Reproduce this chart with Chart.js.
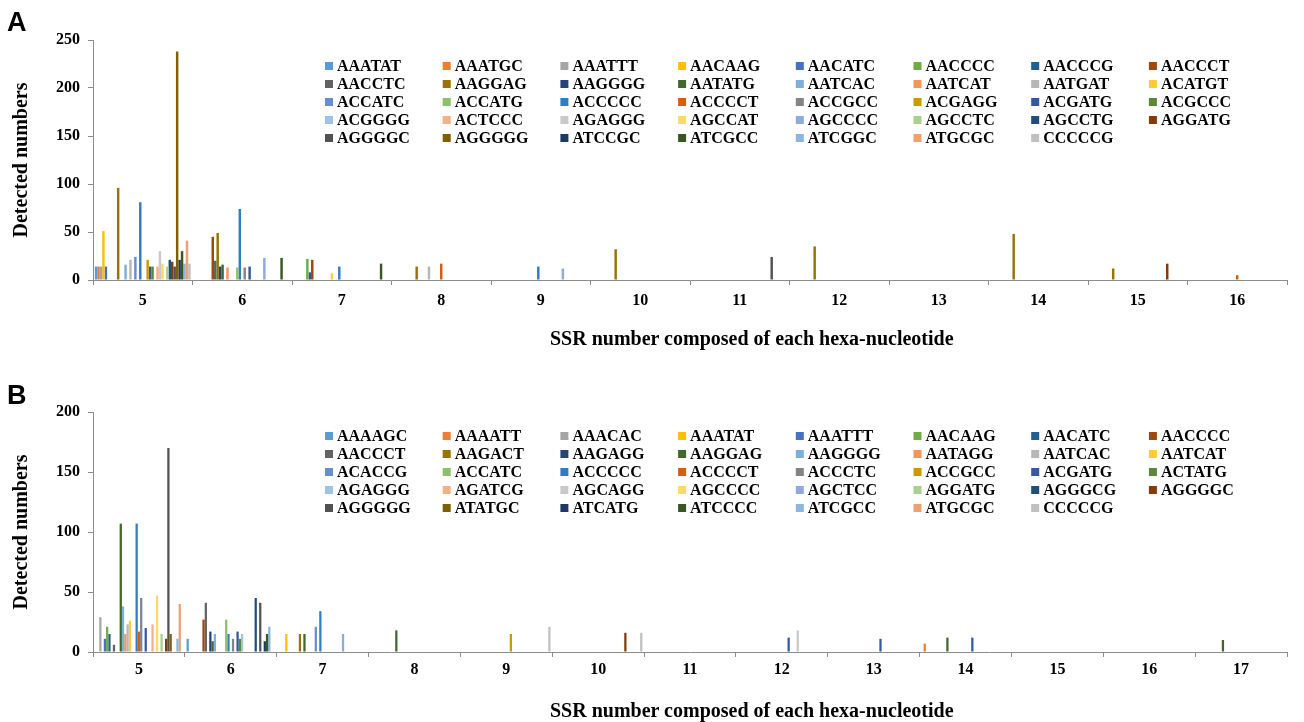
<!DOCTYPE html>
<html>
<head>
<meta charset="utf-8">
<script src="https://cdn.jsdelivr.net/npm/chart.js@4.4.1/dist/chart.umd.min.js"></script>
<style>
  html, body { margin: 0; padding: 0; background: #fff; }
  .panel { position: relative; width: 1304px; height: 361px; }
  .tag { position: absolute; left: 7px; font: bold 27px 'Liberation Sans', Arial, sans-serif; line-height: 1; }
  .xtitle { position: absolute; left: 550px; width: 400px; text-align: center; white-space: nowrap;
            font: bold 20px 'Liberation Serif', 'Times New Roman', serif; line-height: 24px; }
</style>
</head>
<body>
<div class="panel"><canvas id="chartA" width="1304" height="361"></canvas><div class="tag" style="top:9px">A</div>
  <div class="xtitle" style="top:326px">SSR number composed of each hexa-nucleotide</div></div>
<div class="panel"><canvas id="chartB" width="1304" height="361"></canvas><div class="tag" style="top:21px">B</div>
  <div class="xtitle" style="top:337px">SSR number composed of each hexa-nucleotide</div></div>
<script>
// panel A: hexa-nucleotide motifs, counts per SSR number
const categoriesA = ['5', '6', '7', '8', '9', '10', '11', '12', '13', '14', '15', '16'];
const motifsA = [
  'AAATAT', 'AAATGC', 'AAATTT', 'AACAAG', 'AACATC', 'AACCCC', 'AACCCG', 'AACCCT',
  'AACCTC', 'AAGGAG', 'AAGGGG', 'AATATG', 'AATCAC', 'AATCAT', 'AATGAT', 'ACATGT',
  'ACCATC', 'ACCATG', 'ACCCCC', 'ACCCCT', 'ACCGCC', 'ACGAGG', 'ACGATG', 'ACGCCC',
  'ACGGGG', 'ACTCCC', 'AGAGGG', 'AGCCAT', 'AGCCCC', 'AGCCTC', 'AGCCTG', 'AGGATG',
  'AGGGGC', 'AGGGGG', 'ATCCGC', 'ATCGCC', 'ATCGGC', 'ATGCGC', 'CCCCCG'
];
// one array per SSR number, values in motif order
const a5  = [14,14,14,51,14,0,0,0, 0,96,0,0,16,0,21,0, 24,0,81,0,0,21,14,14, 0,14,30,17,0,14,21,19, 14,238,21,30,17,41,17];
const a6  = [0,0,0,0,0,0,0,45, 20,49,14,16,0,13,0,0, 0,13,74,0,13,0,14,0, 0,0,0,0,23,0,0,0, 0,0,0,23,0,0,0];
const a7  = [0,0,0,0,0,22,8,21, 0,0,0,0,0,0,0,7, 0,0,14,0,0,0,0,0, 0,0,0,0,0,0,0,0, 0,0,0,17,0,0,0];
const a8  = [0,0,0,0,0,0,0,0, 0,14,0,0,0,0,14,0, 0,0,0,17,0,0,0,0, 0,0,0,0,0,0,0,0, 0,0,0,0,0,0,0];
const a9  = [0,0,0,0,0,0,0,0, 0,0,0,0,0,0,0,0, 0,0,14,0,0,0,0,0, 0,0,0,0,12,0,0,0, 0,0,0,0,0,0,0];
const a10 = [0,0,0,0,0,0,0,0, 0,32,0,0,0,0,0,0, 0,0,0,0,0,0,0,0, 0,0,0,0,0,0,0,0, 0,0,0,0,0,0,0];
const a11 = [0,0,0,0,0,0,0,0, 0,0,0,0,0,0,0,0, 0,0,0,0,0,0,0,0, 0,0,0,0,0,0,0,0, 24,0,0,0,0,0,0];
const a12 = [0,0,0,0,0,0,0,0, 0,35,0,0,0,0,0,0, 0,0,0,0,0,0,0,0, 0,0,0,0,0,0,0,0, 0,0,0,0,0,0,0];
const a13 = [0,0,0,0,0,0,0,0, 0,0,0,0,0,0,0,0, 0,0,0,0,0,0,0,0, 0,0,0,0,0,0,0,0, 0,0,0,0,0,0,0];
const a14 = [0,0,0,0,0,0,0,0, 0,48,0,0,0,0,0,0, 0,0,0,0,0,0,0,0, 0,0,0,0,0,0,0,0, 0,0,0,0,0,0,0];
const a15 = [0,0,0,0,0,0,0,0, 0,12,0,0,0,0,0,0, 0,0,0,0,0,0,0,0, 0,0,0,0,0,0,0,17, 0,0,0,0,0,0,0];
const a16 = [0,0,0,0,0,0,0,0, 0,0,0,0,0,0,0,0, 0,0,0,5,0,0,0,0, 0,0,0,0,0,0,0,0, 0,0,0,0,0,0,0];

// panel B
const categoriesB = ['5', '6', '7', '8', '9', '10', '11', '12', '13', '14', '15', '16', '17'];
const motifsB = [
  'AAAAGC', 'AAAATT', 'AAACAC', 'AAATAT', 'AAATTT', 'AACAAG', 'AACATC', 'AACCCC',
  'AACCCT', 'AAGACT', 'AAGAGG', 'AAGGAG', 'AAGGGG', 'AATAGG', 'AATCAC', 'AATCAT',
  'ACACCG', 'ACCATC', 'ACCCCC', 'ACCCCT', 'ACCCTC', 'ACCGCC', 'ACGATG', 'ACTATG',
  'AGAGGG', 'AGATCG', 'AGCAGG', 'AGCCCC', 'AGCTCC', 'AGGATG', 'AGGGCG', 'AGGGGC',
  'AGGGGG', 'ATATGC', 'ATCATG', 'ATCCCC', 'ATCGCC', 'ATGCGC', 'CCCCCG'
];
const b5  = [0,0,29,0,11,21,15,0, 6,0,0,107,38,15,23,26, 0,0,107,17,45,0,20,0, 0,23,0,47,0,15,0,11, 170,15,0,0,11,40,0];
const b6  = [11,0,0,0,0,0,0,27, 41,0,17,9,15,0,0,0, 0,27,15,0,11,0,17,11, 15,0,0,0,0,0,45,0, 41,0,9,15,21,0,0];
const b7  = [0,0,0,15,0,0,0,0, 0,15,0,15,0,0,0,0, 21,0,34,0,0,0,0,0, 0,0,0,0,15,0,0,0, 0,0,0,0,0,0,0];
const b8  = [0,0,0,0,0,0,0,0, 0,0,0,18,0,0,0,0, 0,0,0,0,0,0,0,0, 0,0,0,0,0,0,0,0, 0,0,0,0,0,0,0];
const b9  = [0,0,0,0,0,0,0,0, 0,0,0,0,0,0,0,0, 0,0,0,0,0,15,0,0, 0,0,0,0,0,0,0,0, 0,0,0,0,0,0,21];
const b10 = [0,0,0,0,0,0,0,0, 0,0,0,0,0,0,0,0, 0,0,0,0,0,0,0,0, 0,0,0,0,0,0,0,16, 0,0,0,0,0,0,16];
const b11 = [0,0,0,0,0,0,0,0, 0,0,0,0,0,0,0,0, 0,0,0,0,0,0,0,0, 0,0,0,0,0,0,0,0, 0,0,0,0,0,0,0];
const b12 = [0,0,0,0,0,0,0,0, 0,0,0,0,0,0,0,0, 0,0,0,0,0,0,12,0, 0,0,18,0,0,0,0,0, 0,0,0,0,0,0,0];
const b13 = [0,0,0,0,0,0,0,0, 0,0,0,0,0,0,0,0, 0,0,0,0,0,0,11,0, 0,0,0,0,0,0,0,0, 0,0,0,0,0,0,0];
const b14 = [0,7,0,0,0,0,0,0, 0,0,0,12,0,0,0,0, 0,0,0,0,0,0,12,0, 0,0,0,0,0,0,0,0, 0,0,0,0,0,0,0];
const b15 = [0,0,0,0,0,0,0,0, 0,0,0,0,0,0,0,0, 0,0,0,0,0,0,0,0, 0,0,0,0,0,0,0,0, 0,0,0,0,0,0,0];
const b16 = [0,0,0,0,0,0,0,0, 0,0,0,0,0,0,0,0, 0,0,0,0,0,0,0,0, 0,0,0,0,0,0,0,0, 0,0,0,0,0,0,0];
const b17 = [0,0,0,0,0,0,0,0, 0,0,0,10,0,0,0,0, 0,0,0,0,0,0,0,0, 0,0,0,0,0,0,0,0, 0,0,0,0,0,0,0];

// office-style series colours, in legend order
const palette = [
  '#5B9BD5', '#ED7D31', '#A5A5A5', '#FFC000', '#4472C4', '#70AD47', '#255E91', '#9E480E',
  '#636363', '#997300', '#264478', '#43682B', '#7CAFDD', '#F1975A', '#B7B7B7', '#FFCD33',
  '#698ED0', '#8CC168', '#327DC2', '#D26012', '#848484', '#CC9A00', '#335AA1', '#5A8A39',
  '#9DC3E6', '#F4B183', '#C9C9C9', '#FFD966', '#8FAADC', '#A9D18E', '#1F4E79', '#843C0C',
  '#525252', '#7F6000', '#203864', '#385723', '#8AB6E0', '#EFA070', '#C0C0C0'
];

const serif = "'Liberation Serif', 'Times New Roman', serif";
const axisGrey = '#8c8c8c';

// legend laid out as a fixed 8-column grid inside the plot
const gridLegend = {
  id: 'gridLegend',
  afterDraw(chart, args, o) {
    const ctx = chart.ctx;
    ctx.save();
    ctx.font = 'bold 16px ' + serif;
    ctx.textBaseline = 'middle';
    chart.data.datasets.forEach((ds, i) => {
      const x = o.x + (i % o.cols) * o.dx;
      const y = o.y + Math.floor(i / o.cols) * o.dy;
      ctx.fillStyle = ds.backgroundColor;
      ctx.fillRect(x, y - 4, 8, 8);
      ctx.fillStyle = '#000';
      ctx.fillText(ds.label, x + 12, y + 1);
    });
    ctx.restore();
  }
};

function makeChart(id, categories, motifs, columns, cfg) {
  const datasets = motifs.map((m, i) => ({
    label: m,
    data: columns.map(c => c[i]),
    backgroundColor: palette[i],
    borderWidth: 0,
    categoryPercentage: 0.963,
    barPercentage: 1
  }));
  const tickFont = { family: serif, size: 16, weight: 'bold' };
  const titleFont = { family: serif, size: 20, weight: 'bold' };

  return new Chart(document.getElementById(id), {
    type: 'bar',
    data: { labels: categories, datasets },
    options: {
      responsive: false,
      animation: false,
      layout: { padding: { top: cfg.top, right: 17, bottom: 0, left: 0 } },
      plugins: {
        legend: { display: false },
        tooltip: { enabled: false },
        gridLegend: { x: 325, y: cfg.legendY, dx: 117.7, dy: 18, cols: 8 }
      },
      scales: {
        x: {
          grid: { offset: true, drawOnChartArea: false, tickLength: 5, color: axisGrey },
          border: { color: axisGrey },
          ticks: { font: tickFont, color: '#000', padding: cfg.xPad, maxRotation: 0, autoSkip: false },
          // axis title is an html label below the canvas text (it sits right of centre)
          afterFit: s => { s.height = cfg.xHeight; }
        },
        y: {
          min: 0, max: cfg.yMax,
          grid: { drawOnChartArea: false, tickLength: 5, color: axisGrey },
          border: { color: axisGrey },
          ticks: { stepSize: 50, font: tickFont, color: '#000', padding: 8 },
          title: {
            display: true, text: 'Detected numbers',
            font: titleFont, color: '#000', padding: { top: 10, bottom: 0 }
          },
          afterFit: s => { s.width = 93; }
        }
      }
    },
    plugins: [gridLegend]
  });
}

makeChart('chartA', categoriesA, motifsA,
  [a5, a6, a7, a8, a9, a10, a11, a12, a13, a14, a15, a16],
  { top: 40, yMax: 250, legendY: 66, xHeight: 81, xPad: 6 });

makeChart('chartB', categoriesB, motifsB,
  [b5, b6, b7, b8, b9, b10, b11, b12, b13, b14, b15, b16, b17],
  { top: 51, yMax: 200, legendY: 75, xHeight: 70, xPad: 3 });
</script>
</body>
</html>
